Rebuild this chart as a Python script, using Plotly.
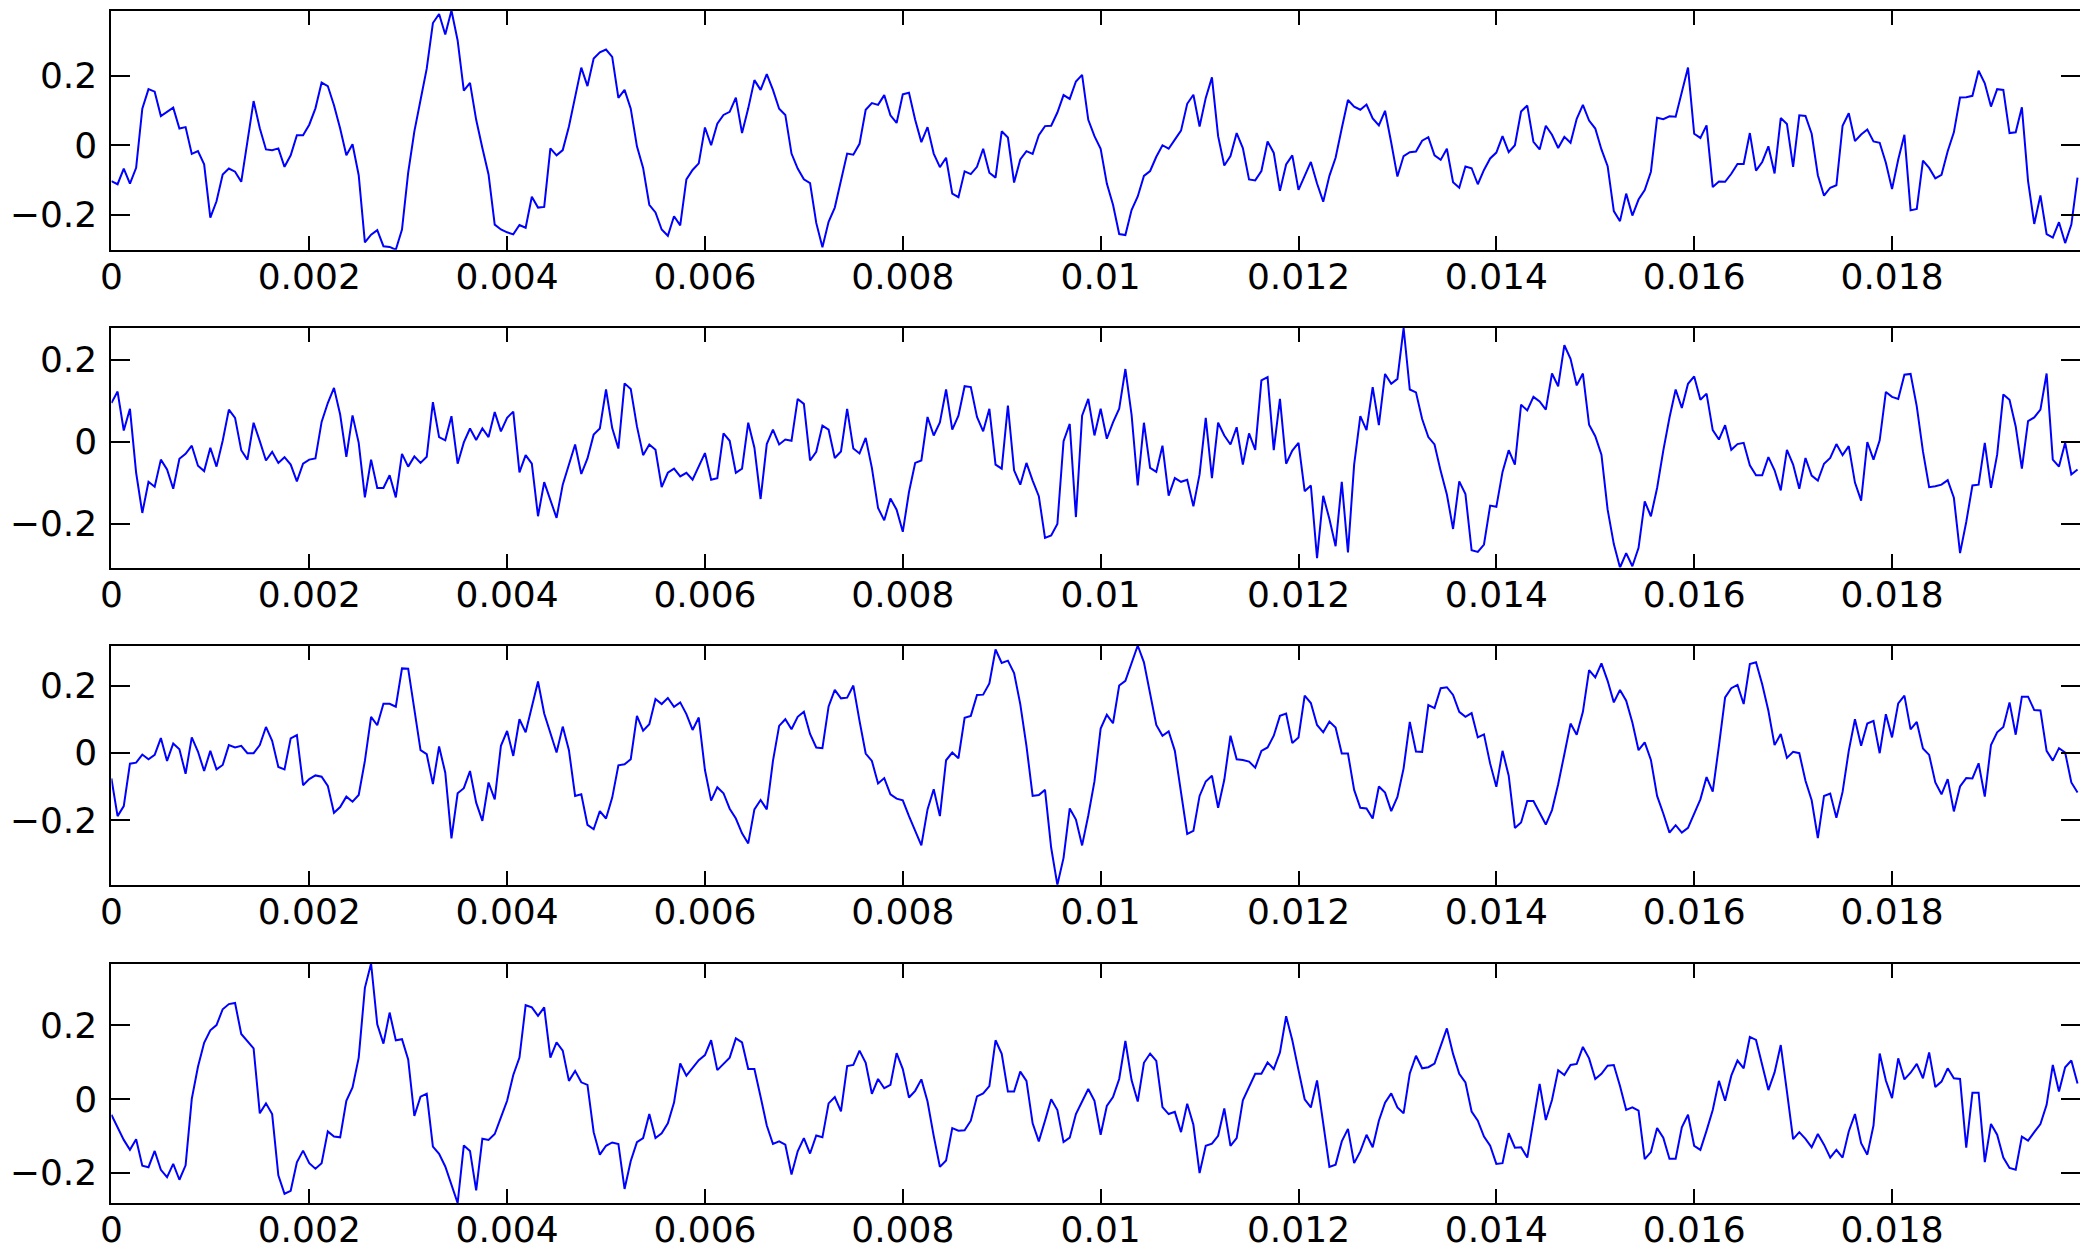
import plotly.graph_objects as go

# sampling: 16 kHz
dt = 1.0 / 16000.0

s1 = [
-0.103,-0.112,-0.067,-0.110,-0.065,0.105,0.161,0.154,0.084,0.097,
0.108,0.048,0.052,-0.025,-0.017,-0.055,-0.208,-0.161,-0.084,-0.067,
-0.076,-0.105,0.016,0.127,0.049,-0.012,-0.014,-0.009,-0.062,-0.029,
0.029,0.029,0.059,0.106,0.180,0.170,0.115,0.048,-0.029,0.003,
-0.086,-0.279,-0.257,-0.244,-0.290,-0.292,-0.300,-0.242,-0.079,0.040,
0.130,0.220,0.351,0.377,0.318,0.387,0.301,0.157,0.179,0.073,
-0.008,-0.084,-0.228,-0.242,-0.250,-0.256,-0.229,-0.237,-0.148,-0.179,
-0.177,-0.009,-0.029,-0.014,0.054,0.140,0.223,0.170,0.249,0.267,
0.275,0.254,0.136,0.159,0.105,-0.003,-0.065,-0.171,-0.193,-0.242,
-0.260,-0.204,-0.230,-0.098,-0.071,-0.052,0.051,0.000,0.062,0.087,
0.096,0.137,0.035,0.106,0.187,0.159,
0.204,0.159,0.105,0.087,-0.024,-0.067,-0.098,-0.109,-0.223,-0.293,
-0.220,-0.179,-0.103,-0.024,-0.027,0.004,0.102,0.121,0.116,0.144,
0.086,0.064,0.146,0.151,0.073,0.009,0.052,-0.024,-0.063,-0.036,
-0.139,-0.149,-0.075,-0.083,-0.062,-0.010,-0.079,-0.093,0.040,0.022,
-0.107,-0.041,-0.017,-0.025,0.029,0.055,0.056,0.094,0.144,0.133,
0.183,0.202,0.073,0.026,-0.010,-0.110,-0.171,-0.255,-0.258,-0.186,
-0.147,-0.088,-0.074,-0.033,0.000,-0.010,0.016,0.042,0.119,0.145,
0.054,0.136,0.195,0.026,-0.058,-0.031,0.035,-0.008,-0.098,-0.101,
-0.074,0.011,-0.022,-0.131,-0.055,-0.029,-0.128,-0.088,-0.048,-0.110,
-0.162,-0.088,-0.036,0.049,0.130,0.111,0.102,0.117,0.077,0.057,
0.099,0.007,-0.090,-0.031,-0.020,-0.018,
0.013,0.023,-0.029,-0.042,-0.010,-0.106,-0.122,-0.061,-0.066,-0.112,
-0.071,-0.038,-0.021,0.026,-0.020,0.000,0.097,0.114,0.010,-0.012,
0.056,0.030,-0.008,0.024,0.007,0.076,0.116,0.071,0.048,-0.012,
-0.060,-0.189,-0.218,-0.139,-0.202,-0.156,-0.129,-0.076,0.079,0.075,
0.083,0.082,0.149,0.223,0.033,0.021,0.057,-0.120,-0.104,-0.105,
-0.082,-0.054,-0.054,0.035,-0.073,-0.048,-0.003,-0.081,0.078,0.061,
-0.062,0.086,0.084,0.033,-0.086,-0.145,-0.122,-0.115,0.056,0.092,
0.012,0.031,0.045,0.011,0.007,-0.050,-0.126,-0.041,0.030,-0.187,
-0.183,-0.044,-0.065,-0.095,-0.085,-0.017,0.037,0.137,0.138,0.142,
0.214,0.178,0.111,0.161,0.159,0.035,0.037,0.109,-0.103,-0.226,
-0.144,-0.255,-0.265,-0.221,-0.281,-0.228,-0.093,
]

s2 = [
0.094,0.122,0.027,0.080,-0.076,-0.174,-0.098,-0.110,-0.044,-0.068,
-0.115,-0.042,-0.030,-0.010,-0.059,-0.072,-0.015,-0.061,0.002,0.078,
0.058,-0.021,-0.044,0.046,0.001,-0.046,-0.025,-0.052,-0.038,-0.056,
-0.097,-0.054,-0.044,-0.041,0.048,0.094,0.131,0.066,-0.037,0.064,
-0.003,-0.136,-0.044,-0.113,-0.113,-0.082,-0.136,-0.030,-0.061,-0.036,
-0.052,-0.037,0.096,0.011,0.003,0.062,-0.054,-0.002,0.032,0.004,
0.032,0.011,0.072,0.025,0.058,0.073,-0.075,-0.033,-0.054,-0.182,
-0.099,-0.141,-0.186,-0.105,-0.056,-0.007,-0.079,-0.041,0.017,0.032,
0.127,0.033,-0.017,0.142,0.128,0.037,-0.033,-0.007,-0.020,-0.111,
-0.076,-0.066,-0.085,-0.076,-0.093,-0.060,-0.028,-0.093,-0.089,0.020,
0.002,-0.076,-0.066,0.046,-0.015,-0.140,
-0.006,0.029,-0.007,0.005,0.002,0.104,0.092,-0.046,-0.025,0.039,
0.029,-0.040,-0.024,0.080,-0.017,-0.029,0.009,-0.064,-0.162,-0.192,
-0.139,-0.166,-0.220,-0.123,-0.052,-0.046,0.060,0.015,0.047,0.127,
0.029,0.063,0.135,0.133,0.060,0.025,0.080,-0.056,-0.066,0.088,
-0.070,-0.105,-0.052,-0.095,-0.133,-0.235,-0.229,-0.201,0.001,0.043,
-0.184,0.063,0.104,0.015,0.080,0.007,0.047,0.080,0.177,0.066,
-0.107,0.046,-0.064,-0.074,-0.010,-0.132,-0.089,-0.098,-0.093,-0.158,
-0.080,0.058,-0.089,0.046,0.015,-0.007,0.035,-0.056,0.020,-0.020,
0.149,0.157,-0.021,0.104,-0.054,-0.022,-0.003,-0.121,-0.107,-0.284,
-0.132,-0.189,-0.255,-0.098,-0.270,-0.056,0.062,0.028,0.133,0.040,
0.165,0.141,0.153,0.277,0.127,0.120,
0.055,0.011,-0.007,-0.072,-0.129,-0.213,-0.097,-0.128,-0.265,-0.269,
-0.251,-0.156,-0.159,-0.074,-0.021,-0.056,0.090,0.076,0.109,0.098,
0.078,0.166,0.135,0.235,0.202,0.137,0.166,0.041,0.013,-0.032,
-0.166,-0.250,-0.307,-0.272,-0.304,-0.259,-0.146,-0.182,-0.113,-0.022,
0.058,0.127,0.082,0.141,0.159,0.102,0.117,0.028,0.005,0.040,
-0.020,-0.006,-0.003,-0.058,-0.082,-0.082,-0.038,-0.070,-0.119,-0.020,
-0.056,-0.115,-0.040,-0.083,-0.095,-0.054,-0.040,-0.006,-0.033,-0.011,
-0.100,-0.144,-0.001,-0.044,0.003,0.121,0.109,0.104,0.163,0.165,
0.086,-0.024,-0.111,-0.109,-0.105,-0.094,-0.137,-0.272,-0.196,-0.107,
-0.105,-0.003,-0.113,-0.032,0.115,0.102,0.037,-0.066,0.050,0.059,
0.078,0.166,-0.044,-0.061,-0.003,-0.080,-0.068,
]

s3 = [
-0.076,-0.188,-0.158,-0.032,-0.029,-0.005,-0.019,-0.006,0.044,-0.024,
0.028,0.011,-0.062,0.046,0.004,-0.054,0.006,-0.049,-0.036,0.023,
0.016,0.021,-0.001,-0.001,0.023,0.077,0.036,-0.042,-0.049,0.043,
0.053,-0.096,-0.078,-0.067,-0.071,-0.098,-0.178,-0.161,-0.130,-0.145,
-0.125,-0.024,0.107,0.082,0.146,0.146,0.137,0.251,0.250,0.130,
0.008,-0.004,-0.093,0.019,-0.059,-0.254,-0.120,-0.105,-0.054,-0.148,
-0.202,-0.088,-0.138,0.021,0.065,-0.009,0.100,0.061,0.135,0.212,
0.117,0.058,0.001,0.078,0.008,-0.128,-0.123,-0.214,-0.227,-0.173,
-0.195,-0.133,-0.037,-0.034,-0.019,0.110,0.066,0.085,0.160,0.145,
0.163,0.137,0.150,0.115,0.068,0.105,-0.051,-0.142,-0.102,-0.120,
-0.166,-0.195,-0.239,-0.269,-0.168,-0.140,
-0.168,-0.024,0.080,0.100,0.070,0.107,0.122,0.056,0.016,0.014,
0.138,0.187,0.162,0.164,0.200,0.095,-0.002,-0.024,-0.091,-0.075,
-0.123,-0.136,-0.141,-0.188,-0.229,-0.275,-0.168,-0.108,-0.188,-0.022,
0.001,-0.016,0.104,0.110,0.172,0.173,0.206,0.307,0.267,0.274,
0.237,0.145,0.021,-0.128,-0.125,-0.110,-0.282,-0.392,-0.312,-0.165,
-0.198,-0.275,-0.186,-0.085,0.072,0.113,0.088,0.200,0.214,0.269,
0.319,0.269,0.180,0.083,0.051,0.064,0.006,-0.118,-0.241,-0.232,
-0.128,-0.085,-0.068,-0.163,-0.080,0.051,-0.019,-0.021,-0.026,-0.044,
0.006,0.016,0.051,0.110,0.117,0.029,0.046,0.170,0.148,0.083,
0.061,0.093,0.075,-0.002,-0.002,-0.110,-0.163,-0.165,-0.195,-0.100,
-0.118,-0.173,-0.131,-0.046,0.092,0.004,
0.003,0.142,0.133,0.192,0.195,0.172,0.122,0.107,0.118,0.046,
0.055,-0.032,-0.101,0.006,-0.068,-0.223,-0.207,-0.143,-0.143,-0.178,
-0.213,-0.170,-0.093,-0.004,0.087,0.054,0.122,0.246,0.224,0.266,
0.214,0.150,0.187,0.155,0.090,0.008,0.031,-0.021,-0.128,-0.180,
-0.237,-0.215,-0.237,-0.223,-0.178,-0.138,-0.072,-0.115,0.021,0.165,
0.192,0.202,0.145,0.264,0.269,0.204,0.125,0.023,0.056,-0.015,
0.003,-0.001,-0.083,-0.141,-0.253,-0.128,-0.121,-0.193,-0.116,0.006,
0.100,0.021,0.087,0.095,-0.001,0.115,0.046,0.147,0.170,0.070,
0.092,0.013,-0.006,-0.088,-0.123,-0.078,-0.174,-0.100,-0.075,-0.076,
-0.031,-0.130,0.023,0.061,0.077,0.150,0.054,0.167,0.167,0.127,
0.126,0.006,-0.023,0.014,0.001,-0.088,-0.118,
]

s4 = [
-0.043,-0.077,-0.111,-0.138,-0.109,-0.181,-0.185,-0.141,-0.192,-0.212,
-0.176,-0.219,-0.180,0.000,0.087,0.152,0.186,0.200,0.243,0.257,
0.260,0.176,0.157,0.137,-0.039,-0.012,-0.041,-0.207,-0.257,-0.249,
-0.172,-0.140,-0.174,-0.189,-0.174,-0.088,-0.102,-0.104,-0.005,0.031,
0.112,0.301,0.367,0.202,0.150,0.234,0.159,0.162,0.107,-0.046,
0.006,0.014,-0.129,-0.149,-0.183,-0.231,-0.282,-0.126,-0.141,-0.248,
-0.108,-0.111,-0.095,-0.050,-0.005,0.065,0.112,0.254,0.248,0.225,
0.248,0.112,0.153,0.131,0.049,0.076,0.045,0.038,-0.090,-0.151,
-0.127,-0.118,-0.122,-0.244,-0.168,-0.117,-0.106,-0.041,-0.106,-0.093,
-0.066,-0.010,0.096,0.063,0.083,0.105,0.119,0.159,0.078,0.096,
0.112,0.164,0.153,0.081,0.081,0.006,
-0.072,-0.122,-0.115,-0.124,-0.205,-0.142,-0.106,-0.148,-0.099,-0.104,
-0.012,0.005,-0.034,0.089,0.092,0.131,0.098,0.014,0.054,0.029,
0.038,0.124,0.081,0.004,0.022,0.053,-0.007,-0.100,-0.184,-0.167,
-0.079,-0.086,-0.085,-0.059,0.007,0.015,0.035,0.159,0.122,0.020,
0.020,0.074,0.049,-0.066,-0.115,-0.059,-0.001,-0.030,-0.117,-0.105,
-0.041,-0.007,0.027,-0.005,-0.097,-0.019,0.005,0.054,0.157,0.051,
-0.007,0.098,0.123,0.103,-0.022,-0.041,-0.035,-0.090,-0.013,-0.070,
-0.201,-0.127,-0.121,-0.100,-0.026,-0.127,-0.106,-0.004,0.032,0.068,
0.068,0.099,0.081,0.126,0.224,0.159,0.078,-0.001,-0.023,0.050,
-0.066,-0.184,-0.178,-0.115,-0.081,-0.174,-0.142,-0.097,-0.131,-0.059,
-0.010,0.015,-0.023,-0.039,0.069,0.117,
0.083,0.086,0.096,0.144,0.191,0.122,0.068,0.045,-0.034,-0.059,
-0.102,-0.127,-0.176,-0.174,-0.093,-0.132,-0.131,-0.159,-0.059,0.041,
-0.057,-0.003,0.078,0.065,0.092,0.095,0.141,0.110,0.054,0.068,
0.090,0.092,0.035,-0.030,-0.023,-0.032,-0.163,-0.144,-0.079,-0.105,
-0.162,-0.162,-0.077,-0.043,-0.127,-0.138,-0.086,-0.030,0.049,-0.005,
0.063,0.104,0.083,0.168,0.160,0.092,0.024,0.072,0.146,0.020,
-0.109,-0.090,-0.108,-0.131,-0.095,-0.124,-0.159,-0.138,-0.159,-0.088,
-0.041,-0.120,-0.151,-0.072,0.123,0.050,0.002,0.110,0.053,0.071,
0.095,0.056,0.126,0.032,0.047,0.083,0.056,0.054,-0.132,0.017,
0.017,-0.171,-0.068,-0.097,-0.159,-0.187,-0.192,-0.102,-0.113,-0.090,
-0.068,-0.016,0.092,0.020,0.086,0.104,0.042,
]

x_tick_vals = [0, 0.002, 0.004, 0.006, 0.008, 0.010, 0.012, 0.014, 0.016, 0.018]
x_tick_text = ["0", "0.002", "0.004", "0.006", "0.008", "0.01", "0.012", "0.014", "0.016", "0.018"]
y_tick_vals = [-0.2, 0, 0.2]
y_tick_text = ["\u22120.2", "0", "0.2"]

series = [s1, s2, s3, s4]
x_end = 0.0199

W, H = 2080, 1251
rows_px = [(10.5, 249.7), (328.0, 567.5), (645.5, 884.8), (963.5, 1203.0)]
x_left = 111.4 / W

font = dict(family="DejaVu Sans", size=36, color="black")

fig = go.Figure()
layout = dict(
    width=W, height=H, autosize=False,
    margin=dict(l=0, r=0, t=0, b=0, pad=0),
    paper_bgcolor="white", plot_bgcolor="white",
    showlegend=False, font=font,
)

for i, s in enumerate(series):
    t = [k * dt for k in range(len(s))]
    xa = "x" if i == 0 else f"x{i+1}"
    ya = "y" if i == 0 else f"y{i+1}"
    fig.add_trace(go.Scatter(x=t, y=s, mode="lines",
                             line=dict(color="#0000ff", width=2.0),
                             xaxis=xa, yaxis=ya, hoverinfo="skip"))
    top, bot = rows_px[i]
    xkey = "xaxis" if i == 0 else f"xaxis{i+1}"
    ykey = "yaxis" if i == 0 else f"yaxis{i+1}"
    layout[xkey] = dict(
        domain=[x_left, 1.0], anchor=ya, range=[0, x_end],
        tickmode="array", tickvals=x_tick_vals, ticktext=x_tick_text,
        ticks="inside", ticklen=14, tickwidth=1.6, tickcolor="black",
        showline=True, linecolor="black", linewidth=2, mirror="ticks",
        showgrid=False, zeroline=False, tickfont=font, automargin=False,
        ticklabelstandoff=-6,
    )
    layout[ykey] = dict(
        domain=[1 - bot / H, 1 - top / H], anchor=xa,
        range=[min(s), max(s)],
        tickmode="array", tickvals=y_tick_vals, ticktext=y_tick_text,
        ticks="inside", ticklen=19, tickwidth=1.6, tickcolor="black",
        showline=True, linecolor="black", linewidth=2, mirror="ticks",
        showgrid=False, zeroline=False, tickfont=font, automargin=False,
        ticklabelstandoff=5,
    )

fig.update_layout(**layout)
fig.write_html("out.html")
